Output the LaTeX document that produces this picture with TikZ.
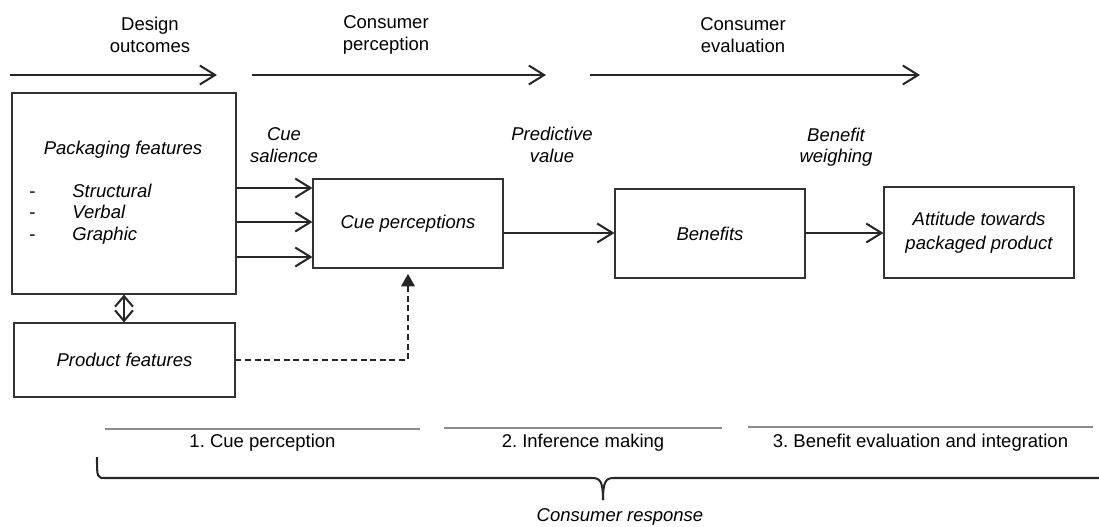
\documentclass[tikz,border=0pt]{standalone}
\usepackage{fontspec}
\setmainfont{Liberation Sans}
\usetikzlibrary{arrows.meta}
\newlength\px
\setlength\px{0.019cm}
\frenchspacing

\begin{document}
\begin{tikzpicture}[x=0.019cm, y=-0.019cm,
  box/.style={draw=black!80, line width=0.6pt, inner sep=0pt, align=center,
    font=\fontsize{10}{11.5}\selectfont\itshape},
  lab/.style={inner sep=0pt, align=center, font=\fontsize{10}{11.5}\selectfont},
  ilab/.style={lab, font=\fontsize{10}{11.5}\selectfont\itshape},
  arr/.style={line width=1.1pt, draw=black!85, -{Straight Barb[length=0.29cm, width=0.36cm]}},
  dbl/.style={line width=1.1pt, draw=black!85,
    {Straight Barb[length=0.2cm, width=0.34cm]}-{Straight Barb[length=0.2cm, width=0.34cm]}},
  phase/.style={line width=1.1pt, draw=black!45}]

\useasboundingbox (0,0) rectangle (1099,526);

% stages on top
\coordinate (d1) at (10,75);  \coordinate (d2) at (217,75);
\coordinate (p1) at (252,75); \coordinate (p2) at (546,75);
\coordinate (e1) at (590,75); \coordinate (e2) at (920,75);
\draw[arr] (d1) -- (d2);
\draw[arr] (p1) -- (p2);
\draw[arr] (e1) -- (e2);
\node[lab] (design) at (150,35) {Design\\outcomes};
\node[lab] (percept) at (386,35) {Consumer\\perception};
\node[lab] (evalu) at (743,35) {Consumer\\evaluation};

% boxes
\node[box, minimum width={224*\px}, minimum height={201*\px}] (pack) at (124,193.5) {};
\node[box, minimum width={221*\px}, minimum height={74*\px}] (prod) at (124.5,360) {Product features};
\node[box, minimum width={190*\px}, minimum height={89*\px}] (cue) at (408,223.5) {Cue perceptions};
\node[box, minimum width={190*\px}, minimum height={89*\px}] (ben) at (710,233.5) {Benefits};
\node[box, minimum width={190*\px}, minimum height={91*\px},
  font=\fontsize{10}{13}\selectfont\itshape] (att) at (979,232.5) {Attitude towards\\packaged product};

\node[ilab] (packtitle) at (123,150) {Packaging features};
\foreach \name/\y [count=\i] in {Structural/197, Verbal/218, Graphic/240} {
  \node[lab, anchor=base west] (dash\i) at (29,\y) {-};
  \node[ilab, anchor=base west] (item\i) at (72,\y) {\name};
}

% arrow labels
\node[ilab] (salience) at (284,145) {Cue\\salience};
\node[ilab] (predict) at (552,145) {Predictive\\value};
\node[ilab] (weigh) at (836,147) {Benefit\\weighing};

% connectors
\foreach \y [count=\i] in {188,222,257} {
  \coordinate (h\i) at (0,\y);
  \draw[arr] (pack.east |- h\i) -- (cue.west |- h\i);
}
\coordinate (lvl) at (0,233);
\draw[arr] (cue.east |- lvl) -- (ben.west |- lvl);
\draw[arr] (ben.east |- lvl) -- (att.west |- lvl);
\draw[dbl] (pack.south) -- (pack.south |- prod.north);
\draw[line width=1.1pt, draw=black!85, dash pattern=on 3.2pt off 2pt, shorten >=0.1cm,
  -{Triangle[length=0.24cm, width=0.26cm]}] (prod.east) -| (cue.south);

% phases
\foreach \a/\b/\y/\txt [count=\i] in {105/420/429/1. Cue perception,
    444/722/428/2. Inference making,
    748/1093/427/3. Benefit evaluation and integration} {
  \draw[phase] (\a,\y) -- (\b,\y);
  \node[lab] (phase\i) at ({(\a+\b)/2},443) {\txt};
}

% brace
\draw[line width=1.1pt, draw=black!85]
  (97,457) .. controls (97,478) and (97,478) .. (106,478) -- (592,478)
  .. controls (600,478) and (603,481) .. (603,500);
\draw[line width=1.1pt, draw=black!85]
  (1099,478) -- (614,478) .. controls (606,478) and (603,481) .. (603,500);
\node[ilab] (response) at (620,517) {Consumer response};
\end{tikzpicture}
\end{document}
